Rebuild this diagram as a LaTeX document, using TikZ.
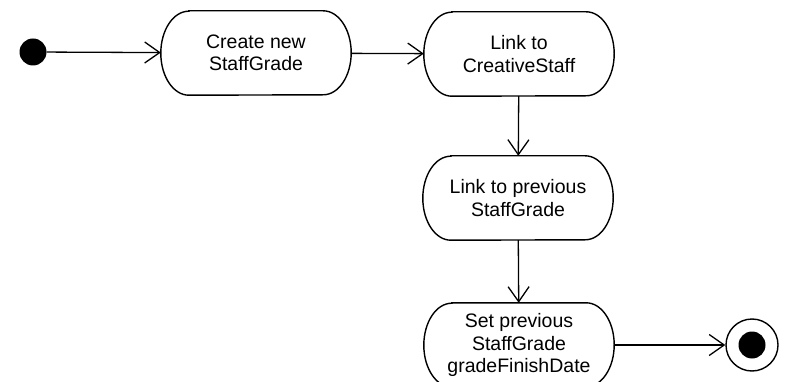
\documentclass[tikz,border=0pt]{standalone}
\usepackage{fontspec}
\setmainfont{Liberation Sans}
\usetikzlibrary{arrows.meta}
\begin{document}
\begin{tikzpicture}[x=1pt,y=-1pt,
  act/.style={minimum width=190pt, minimum height=84pt, inner sep=0pt, align=center,
    font=\fontsize{19.5pt}{22.5pt}\selectfont},
  flow/.style={line width=1.3pt, -{Straight Barb[length=15pt,width=21pt,line width=1.3pt]}},
  ln/.style={line width=1.4pt}]
\useasboundingbox (0,0) rectangle (787,382);
\clip (0,0) rectangle (787,382);
\node[circle, fill=black, minimum size=27pt, inner sep=0pt] (start) at (33,52) {};
\node[act] (b1) at (256,53) {Create new\\StaffGrade};
\node[act] (b2) at (519,54) {Link to\\CreativeStaff};
\node[act] (b3) at (518,198) {Link to previous\\StaffGrade};
\node[act] (b4) at (519,345) {Set previous\\StaffGrade\\gradeFinishDate};
\node[circle, draw, line width=1.4pt, minimum size=52pt, inner sep=0pt] (end) at (752,345) {};
\fill (end.center) circle[radius=13.5pt];
\foreach \n in {b1,b2,b3,b4}{
  \draw[ln] ([xshift=28pt]\n.north west) -- ([xshift=-28pt]\n.north east)
    arc[start angle=90, end angle=-90, x radius=28pt, y radius=42pt]
    -- ([xshift=28pt]\n.south west)
    arc[start angle=270, end angle=90, x radius=28pt, y radius=42pt] -- cycle;
}
\draw[flow] (start) -- (b1);
\draw[flow] (b1) -- (b2);
\draw[flow] (b2) -- (b3);
\draw[flow] (b3) -- (b4);
\draw[flow] (b4) -- (end);
\end{tikzpicture}
\end{document}
